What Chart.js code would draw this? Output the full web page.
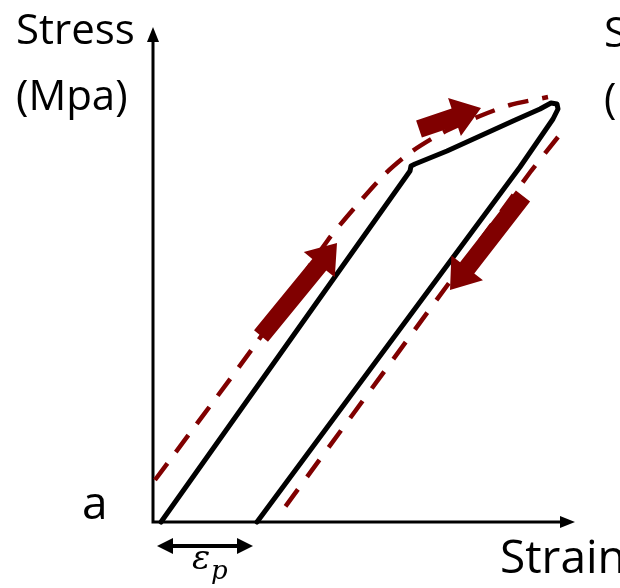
<!DOCTYPE html>
<html>
<head>
<meta charset="utf-8">
<script src="https://cdn.jsdelivr.net/npm/chart.js@4.4.1/dist/chart.umd.min.js"></script>
<style>
  html, body { margin: 0; background: #fff; }
  #wrap { width: 620px; height: 588px; position: relative; }
</style>
</head>
<body>
<div id="wrap"><canvas id="loopChart"></canvas></div>
<script>
// Hysteresis loop (black), strain / stress in arbitrary units
const loopStrain = [0.8, 25.7, 25.8, 26.2, 29.4, 32.7, 36.0, 38.7, 39.8, 40.4, 40.5, 40.0, 36.7, 10.4];
const loopStress = [0.0, 35.1, 35.6, 35.8, 37.1, 38.6, 40.1, 41.3, 41.9, 41.8, 41.3, 40.3, 35.5, 0.0];

// Dashed red path: loading branch and unloading branch
const redLoadStrain = [0.2, 10.2, 17.5, 20.4, 23.2, 25.8, 28.9, 32.7, 35.7, 39.5];
const redLoadStress = [4.2, 17.7, 28.2, 31.7, 34.8, 37.0, 38.9, 40.6, 41.7, 42.5];
const redUnloadStrain = [40.5, 37.8, 13.2];
const redUnloadStress = [38.5, 35.1, 1.5];

// Thick direction arrows (tail -> tip)
const arrowTailStrain = [10.8, 26.6, 37.0];
const arrowTailStress = [18.6, 39.3, 32.6];
const arrowTipStrain = [18.4, 32.8, 29.7];
const arrowTipStress = [27.9, 41.4, 23.2];

// Plastic strain span
const plasticStrain = [0.4, 10.0];

const DARK_RED = "#800000";
const toPts = (xs, ys) => xs.map((v, i) => ({ x: v, y: ys[i] }));

function triangle(ctx, tipX, tipY, ux, uy, len, half) {
    const bx = tipX - ux * len, by = tipY - uy * len;
    ctx.beginPath();
    ctx.moveTo(tipX, tipY);
    ctx.lineTo(bx - uy * half, by + ux * half);
    ctx.lineTo(bx + uy * half, by - ux * half);
    ctx.closePath();
    ctx.fill();
}

function blockArrow(ctx, tx, ty, hx, hy) {
    const shaft = 18, headW = 40, headL = 28;
    const L = Math.hypot(hx - tx, hy - ty);
    const ux = (hx - tx) / L, uy = (hy - ty) / L;
    const nx = -uy, ny = ux;
    const bx = hx - ux * headL, by = hy - uy * headL;
    ctx.beginPath();
    ctx.moveTo(tx + nx * shaft / 2, ty + ny * shaft / 2);
    ctx.lineTo(bx + nx * shaft / 2, by + ny * shaft / 2);
    ctx.lineTo(bx + nx * headW / 2, by + ny * headW / 2);
    ctx.lineTo(hx, hy);
    ctx.lineTo(bx - nx * headW / 2, by - ny * headW / 2);
    ctx.lineTo(bx - nx * shaft / 2, by - ny * shaft / 2);
    ctx.lineTo(tx - nx * shaft / 2, ty - ny * shaft / 2);
    ctx.closePath();
    ctx.fill();
}

const axesPlugin = {
    id: "axesPlugin",
    beforeDatasetsDraw(chart) {
        const { ctx, scales: { x, y } } = chart;
        const x0 = x.getPixelForValue(0), y0 = y.getPixelForValue(0);
        const xEnd = x.getPixelForValue(x.max), yEnd = y.getPixelForValue(y.max);
        ctx.save();
        ctx.strokeStyle = "#000";
        ctx.fillStyle = "#000";
        ctx.lineWidth = 3;
        ctx.beginPath();
        ctx.moveTo(x0, y0 + 1.5);
        ctx.lineTo(x0, yEnd + 10);
        ctx.moveTo(x0 - 1.5, y0);
        ctx.lineTo(xEnd - 10, y0);
        ctx.stroke();
        triangle(ctx, x0, yEnd, 0, -1, 15, 6);
        triangle(ctx, xEnd, y0, 1, 0, 15, 6);
        ctx.restore();
    },
    afterDatasetsDraw(chart) {
        const { ctx, scales: { x, y } } = chart;
        ctx.save();
        // direction arrows
        ctx.fillStyle = DARK_RED;
        arrowTailStrain.forEach((s, i) => {
            blockArrow(ctx,
                x.getPixelForValue(s), y.getPixelForValue(arrowTailStress[i]),
                x.getPixelForValue(arrowTipStrain[i]), y.getPixelForValue(arrowTipStress[i]));
        });

        // plastic strain double arrow
        const ey = y.getPixelForValue(0) + 24;
        const ex1 = x.getPixelForValue(plasticStrain[0]), ex2 = x.getPixelForValue(plasticStrain[1]);
        ctx.strokeStyle = "#000";
        ctx.fillStyle = "#000";
        ctx.lineWidth = 4;
        ctx.beginPath();
        ctx.moveTo(ex1 + 8, ey);
        ctx.lineTo(ex2 - 8, ey);
        ctx.stroke();
        triangle(ctx, ex1, ey, -1, 0, 16, 8);
        triangle(ctx, ex2, ey, 1, 0, 16, 8);

        // labels
        ctx.fillStyle = "#000";
        ctx.textBaseline = "alphabetic";
        ctx.font = '42px "Open Sans"';
        ctx.fillText("Stress", 16, 44);
        ctx.fillText("(Mpa)", 16, 110);
        ctx.fillText("Stress", 604, 47);
        ctx.fillText("(Mpa)", 604, 113);
        ctx.font = '46px "Open Sans"';
        ctx.fillText("a", 82, 519);
        ctx.fillText("Strain", 500, 573);
        ctx.font = 'italic 34px "DejaVu Serif"';
        ctx.fillText("\u03b5", 192, 569);
        ctx.font = 'italic 26px "DejaVu Serif"';
        ctx.fillText("p", 211, 579);
        ctx.restore();
    }
};

new Chart(document.getElementById("loopChart"), {
    type: "scatter",
    data: {
        datasets: [
            {
                label: "Loop",
                data: toPts(loopStrain, loopStress),
                showLine: true,
                borderColor: "#000",
                borderWidth: 5,
                borderJoinStyle: "round",
                borderCapStyle: "round",
                pointRadius: 0,
                tension: 0
            },
            {
                label: "Loading",
                data: toPts(redLoadStrain, redLoadStress),
                showLine: true,
                borderColor: DARK_RED,
                borderWidth: 4.5,
                borderDash: [21, 14],
                pointRadius: 0,
                tension: 0.25
            },
            {
                label: "Unloading",
                data: toPts(redUnloadStrain, redUnloadStress),
                showLine: true,
                borderColor: DARK_RED,
                borderWidth: 4.5,
                borderDash: [21, 15.5],
                pointRadius: 0,
                tension: 0
            }
        ]
    },
    options: {
        responsive: true,
        maintainAspectRatio: false,
        animation: false,
        clip: false,
        layout: { padding: { left: 153, right: 45, top: 27, bottom: 66 } },
        plugins: { legend: { display: false }, tooltip: { enabled: false } },
        scales: {
            x: { type: "linear", display: false, min: 0, max: 42.2 },
            y: { type: "linear", display: false, min: 0, max: 49.5 }
        }
    },
    plugins: [axesPlugin]
});
</script>
</body>
</html>
